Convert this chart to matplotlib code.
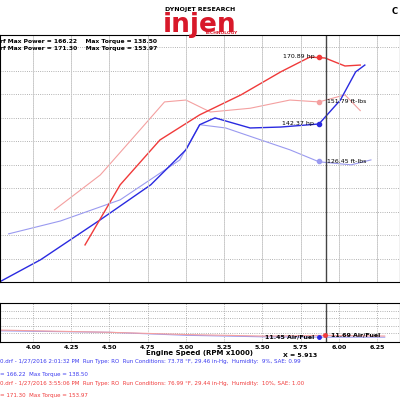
import matplotlib.pyplot as plt

# baseline (blue) and intake (red) runs, RPM x1000
blue_rpm = [3.78, 4.05, 4.44, 4.77, 5.00, 5.09, 5.19, 5.42, 5.62, 5.87, 6.01, 6.11, 6.17]
blue_hp = [75, 84.5, 101.5, 116.4, 131.3, 142, 144.9, 140.6, 141, 142.3, 152.5, 164.5, 167.4]
blue_tq_rpm = [3.84, 4.18, 4.57, 4.96, 5.09, 5.26, 5.49, 5.68, 5.87, 6.08, 6.21]
blue_tq = [95.5, 101, 110, 127, 142, 140.6, 135.5, 131.3, 126.2, 124.9, 127]
red_rpm = [4.34, 4.57, 4.83, 5.09, 5.36, 5.62, 5.81, 5.91, 6.04, 6.14]
red_hp = [90.8, 116.4, 135.5, 146.2, 154.7, 164.5, 170.8, 170.4, 167, 167.4]
red_tq_rpm = [4.14, 4.44, 4.70, 4.86, 5.00, 5.16, 5.42, 5.68, 5.87, 6.04, 6.14]
red_tq = [105.7, 120.6, 139.8, 151.7, 152.5, 147.4, 149, 152.5, 151.7, 154.7, 148]
afr_rpm = [3.78, 4.5, 5.0, 5.5, 5.91, 6.3]
blue_afr = [12.3, 12.1, 11.7, 11.5, 11.45, 11.45]
red_afr = [12.4, 12.1, 11.8, 11.6, 11.69, 11.6]
xticks = [4.00, 4.25, 4.50, 4.75, 5.00, 5.25, 5.50, 5.75, 6.00, 6.25]

fig = plt.figure(figsize=(4, 4), dpi=100)
fig.text(0.5, 0.975, "DYNOJET RESEARCH", ha="center", va="center", fontsize=4.5, weight="bold")
fig.text(0.5, 0.937, "injen", ha="center", va="center", fontsize=19, weight="bold", color="#d8192a")
fig.text(0.555, 0.917, "TECHNOLOGY", ha="center", va="center", fontsize=3.2, weight="bold", color="#d8192a")

ax = fig.add_axes([0, 0.295, 1, 0.6175])
ax.plot(blue_tq_rpm, blue_tq, color="#9a9af0", lw=0.8)
ax.plot(red_tq_rpm, red_tq, color="#f4a0a0", lw=0.8)
ax.plot(blue_rpm, blue_hp, color="#2a2ae0", lw=1)
ax.plot(red_rpm, red_hp, color="#f03a3a", lw=1)
ax.set_xlim(3.784, 6.40)
ax.set_ylim(75, 180.2)
ax.set_xticks(xticks)
ax.set_yticks([85, 95, 105, 115, 125, 135, 145, 155, 165, 175])
ax.tick_params(labelbottom=False, labelleft=False, length=0)
ax.grid(True, ls=":", color="#999999", lw=0.6)
for x in xticks:
    ax.axvline(x, color="#cccccc", lw=0.6)
ax.axvline(5.913, color="#444444", lw=1)
pts = [(5.87, 170.89, "170.89 hp", "#f03a3a"), (5.87, 151.79, "151.79 ft-lbs", "#f4a0a0"),
       (5.87, 142.37, "142.37 hp", "#2a2ae0"), (5.87, 126.45, "126.45 ft-lbs", "#9a9af0")]
for i, (x, y, s, c) in enumerate(pts):
    ax.plot(x, y, "o", color=c, ms=3)
    if i % 2 == 0:
        ax.text(x - 0.03, y, s, ha="right", va="center", fontsize=4.5)
    else:
        ax.text(x + 0.05, y, s, ha="left", va="center", fontsize=4.5)
ax.text(0, 0.985, "rf Max Power = 166.22    Max Torque = 138.50", transform=ax.transAxes, fontsize=4.3, weight="bold", va="top")
ax.text(0, 0.955, "rf Max Power = 171.30    Max Torque = 153.97", transform=ax.transAxes, fontsize=4.3, weight="bold", va="top")
fig.text(0.995, 0.965, "C", fontsize=6, weight="bold", ha="right")

ax2 = fig.add_axes([0, 0.145, 1, 0.097])
ax2.plot(afr_rpm, blue_afr, color="#9a9af0", lw=0.8)
ax2.plot(afr_rpm, red_afr, color="#f4a0a0", lw=0.8)
ax2.set_xlim(3.784, 6.40)
ax2.set_ylim(10.8, 16)
ax2.set_xticks(xticks)
ax2.set_xticklabels(["%.2f" % t for t in xticks], fontsize=4.5, weight="bold")
ax2.set_yticks([12, 13, 14, 15])
ax2.tick_params(labelleft=False, length=0, pad=2)
ax2.grid(True, ls=":", color="#999999", lw=0.6)
ax2.axvline(5.913, color="#444444", lw=1)
ax2.plot(5.87, 11.45, "o", color="#2a2ae0", ms=2.5)
ax2.plot(5.91, 11.69, "o", color="#f03a3a", ms=2.5)
ax2.text(5.84, 11.45, "11.45 Air/Fuel", ha="right", va="center", fontsize=4.5, weight="bold")
ax2.text(5.95, 11.69, "11.69 Air/Fuel", ha="left", va="center", fontsize=4.5, weight="bold")
ax2.set_xlabel("Engine Speed (RPM x1000)", fontsize=5, weight="bold", labelpad=0)
fig.text(0.75, 0.107, "X = 5.913", fontsize=4.5, weight="bold", ha="center")

fig.text(0, 0.095, "0.drf - 1/27/2016 2:01:32 PM  Run Type: RO  Run Conditions: 73.78 °F, 29.46 in-Hg,  Humidity:  9%, SAE: 0.99", fontsize=4, color="#3a3af0", va="center")
fig.text(0, 0.063, "= 166.22  Max Torque = 138.50", fontsize=4, color="#3a3af0", va="center")
fig.text(0, 0.04, "0.drf - 1/27/2016 3:55:06 PM  Run Type: RO  Run Conditions: 76.99 °F, 29.44 in-Hg,  Humidity:  10%, SAE: 1.00", fontsize=4, color="#f03a3a", va="center")
fig.text(0, 0.01, "= 171.30  Max Torque = 153.97", fontsize=4, color="#f03a3a", va="center")
fig.savefig("out.png")
